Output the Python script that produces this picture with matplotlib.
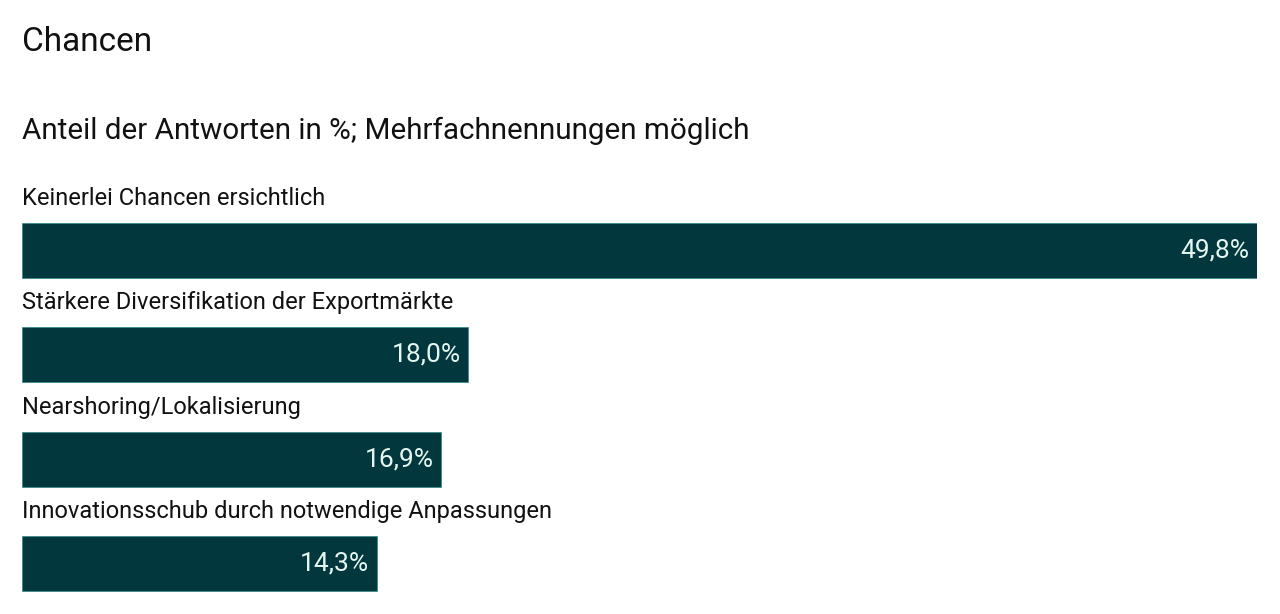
import matplotlib.pyplot as plt

plt.rcParams['font.family'] = ['Roboto', 'DejaVu Sans']

# Daten
kategorien = ['Keinerlei Chancen ersichtlich',
              'Stärkere Diversifikation der Exportmärkte',
              'Nearshoring/Lokalisierung',
              'Innovationsschub durch notwendige Anpassungen']
werte = [49.8, 18.0, 16.9, 14.3]

titel = 'Chancen'
untertitel = 'Anteil der Antworten in %; Mehrfachnennungen möglich'

farbe_balken = '#02383d'
farbe_wert = '#e6f7f2'

fig = plt.figure(figsize=(12.8, 6.14), dpi=100)
fig.patch.set_facecolor('white')

# Achse in Pixelkoordinaten der Vorlage platzieren
links, rechts = 22 / 1280, 1257 / 1280
ax = fig.add_axes([links, 0, rechts - links, (614 - 146) / 614])

pos = list(range(len(werte)))
ax.barh(pos, werte, height=0.527, color=farbe_balken,
        edgecolor='#3b8c8c', linewidth=0.6)

for i, (kat, w) in enumerate(zip(kategorien, werte)):
    ax.text(0, i - 0.50, kat, ha='left', va='center', fontsize=17,
            color='#111111')
    ax.text(w - 0.3, i, f'{w:.1f}%'.replace('.', ','), ha='right',
            va='center', fontsize=19, color=farbe_wert)

ax.set_xlim(0, max(werte))
ax.set_ylim(3.48, -1)
ax.axis('off')

fig.text(links, 1 - 42 / 614, titel, ha='left', va='center', fontsize=24,
         color='#111111')
fig.text(links, 1 - 131 / 614, untertitel, ha='left', va='center',
         fontsize=21.3, color='#111111')

fig.savefig('out.png', dpi=100, facecolor='white')
